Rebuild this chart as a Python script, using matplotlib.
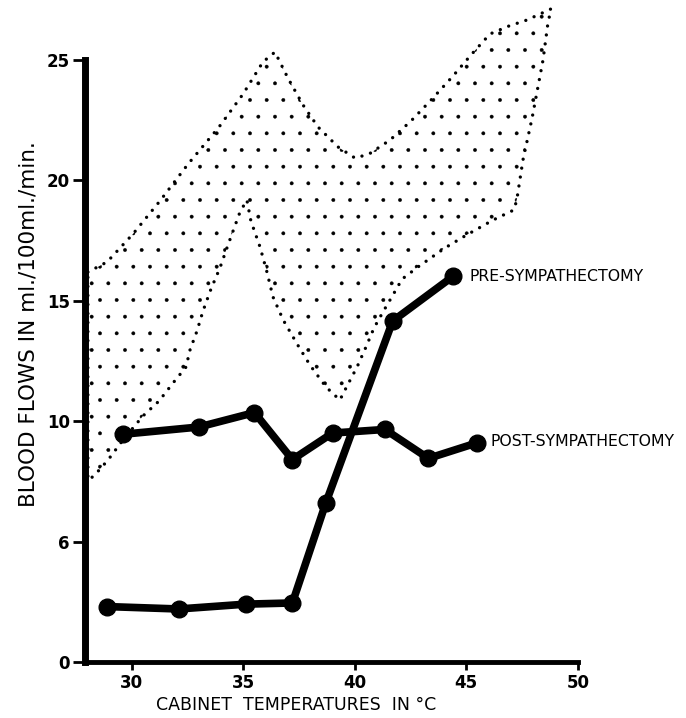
import matplotlib
matplotlib.use('Agg')
import matplotlib.pyplot as plt

# temperatures (deg C) and blood flows (ml/100ml/min)
pre_temp = [28.9, 32.1, 35.1, 37.2, 38.7, 41.7, 44.4]
pre_flow = [2.3, 2.2, 2.4, 2.45, 6.6, 14.15, 16.0]

post_temp = [29.6, 33.0, 35.5, 37.2, 39.0, 41.35, 43.3, 45.5]
post_flow = [9.45, 9.75, 10.35, 8.4, 9.5, 9.65, 8.45, 9.1]

# stippled band (normal range), upper edge left->right
band_top_x = [28.03, 28.89, 30.05, 31.26, 32.52, 33.91, 34.99, 35.88, 36.42, 37.0,
              37.68, 38.35, 39.25, 40.01, 40.64, 41.58, 42.52, 43.42, 44.36, 45.21,
              46.06, 46.91, 47.72, 48.8]
band_top_y = [16.18, 16.6, 17.76, 19.13, 20.66, 22.2, 23.57, 24.9, 25.31, 24.23,
              23.11, 22.2, 21.37, 20.91, 21.08, 21.66, 22.45, 23.32, 24.27, 25.19,
              26.06, 26.39, 26.64, 27.1]
# right edge top->bottom
band_right_x = [48.8, 48.66, 48.44, 47.95, 47.54, 47.27, 47.14]
band_right_y = [27.1, 26.51, 24.98, 22.57, 20.83, 19.21, 18.76]
# lower edge right->left
band_low_x = [47.14, 46.2, 44.94, 44.04, 42.83, 42.12, 41.71, 41.26, 40.86, 40.5,
              40.1, 39.65, 39.33, 38.71, 37.99, 37.41, 36.79, 36.33, 36.06, 35.75,
              35.34, 35.16, 34.85, 34.31, 33.95, 33.55, 33.19, 32.92, 32.61, 32.43,
              31.85, 31.22, 30.5, 29.6, 28.93, 28.3, 28.03]
band_low_y = [18.76, 18.34, 17.68, 17.18, 16.39, 15.89, 15.23, 14.52, 13.86, 13.07,
              12.24, 11.45, 10.87, 11.41, 12.32, 13.2, 14.19, 15.15, 16.18, 17.22,
              18.3, 19.17, 18.67, 17.3, 16.35, 15.48, 14.56, 13.73, 12.95, 12.24,
              11.58, 10.83, 10.21, 9.21, 8.38, 7.72, 7.55]

xticks = [30, 35, 40, 45, 50]
yticks = [0, 5, 10, 15, 20, 25]
ytick_labels = ['0', '6', '10', '15', '20', '25']

plt.rcParams['hatch.linewidth'] = 0.3

fig = plt.figure(figsize=(6.86, 7.18), dpi=100)
ax = fig.add_axes([85/686, 56/718, 492.8/686, 662/718])

### BAND ###
outline_x = band_top_x + band_right_x + band_low_x + [band_top_x[0]]
outline_y = band_top_y + band_right_y + band_low_y + [band_top_y[0]]
ax.fill(outline_x, outline_y, facecolor='none', edgecolor='black',
        linewidth=0, hatch='.')
ax.plot(outline_x, outline_y, color='black', linewidth=2.4,
        linestyle=(0, (0.01, 2.7)), dash_capstyle='round')

### CURVES ###
ax.plot(pre_temp, pre_flow, color='black', linewidth=5.5, marker='o',
        markersize=12, solid_capstyle='round', solid_joinstyle='round', clip_on=False)
ax.plot(post_temp, post_flow, color='black', linewidth=5.5, marker='o',
        markersize=12, solid_capstyle='round', solid_joinstyle='round', clip_on=False)

ax.text(pre_temp[-1] + 0.75, pre_flow[-1], 'PRE-SYMPATHECTOMY',
        fontsize=11.3, va='center', ha='left')
ax.text(post_temp[-1] + 0.6, post_flow[-1] + 0.05, 'POST-SYMPATHECTOMY',
        fontsize=11.3, va='center', ha='left', clip_on=False)

### AXES ###
ax.set_xlim(27.9, 50)
ax.set_ylim(0, 27.47)
ax.spines['top'].set_visible(False)
ax.spines['right'].set_visible(False)
ax.spines['left'].set_linewidth(5)
ax.spines['left'].set_bounds(0, 25)
ax.spines['bottom'].set_linewidth(3.5)

ax.set_xticks(xticks)
ax.set_xticklabels([str(t) for t in xticks], fontsize=12, fontweight='bold')
ax.set_yticks(yticks)
ax.set_yticklabels(ytick_labels, fontsize=12, fontweight='bold')
ax.tick_params(axis='y', direction='out', length=9, width=2, pad=2)
ax.tick_params(axis='x', direction='out', length=6, width=2, pad=3)

ax.set_xlabel('CABINET  TEMPERATURES  IN °C', fontsize=12.5)
ax.xaxis.set_label_coords(0.428, -0.052)
ax.set_ylabel('BLOOD FLOWS IN ml./100ml./min.', fontsize=15.5)
ax.yaxis.set_label_coords(-0.095, 0.51)

fig.savefig('out.png', dpi=100)
